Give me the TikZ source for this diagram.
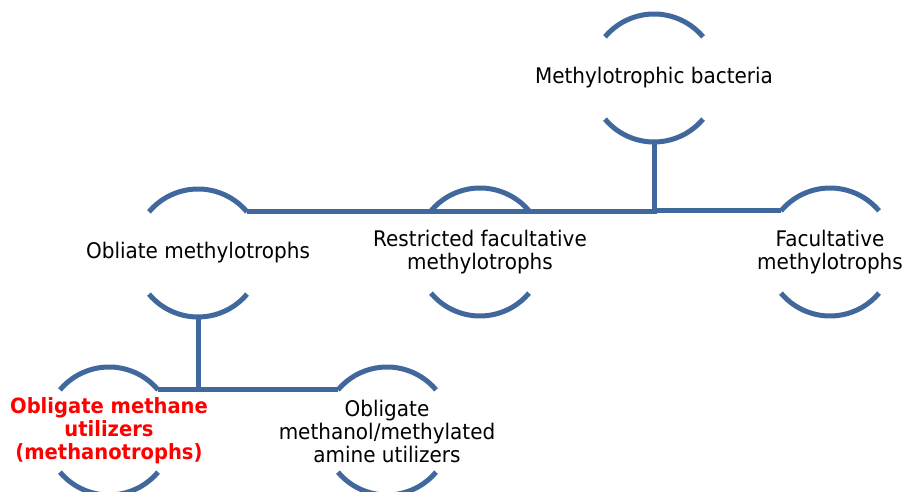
\documentclass[tikz,border=0pt]{standalone}
\usepackage{fontspec}
\setmainfont{DejaVu Sans}[FakeStretch=0.93]
\definecolor{linkblue}{HTML}{40689C}
\definecolor{hired}{HTML}{FF0000}
\begin{document}
\begin{tikzpicture}[x=1pt,y=1pt,
  lbl/.style={align=center,font=\fontsize{21.5}{23}\selectfont,inner sep=0pt},
  redlbl/.style={lbl,text=hired,font=\fontsize{21}{23}\selectfont\bfseries},
  arcline/.style={draw=linkblue,line width=5pt},
  conn/.style={draw=linkblue,line width=5pt}]
\useasboundingbox (0,0) rectangle (907,492);
% nodes
\node[lbl] (top) at (654,414) {Methylotrophic bacteria};
\node[lbl] (obl) at (198,239) {Obliate methylotrophs};
\node[lbl] (res) at (480,240) {Restricted facultative\\methylotrophs};
\node[lbl] (fac) at (830,240) {Facultative\\methylotrophs};
\node[redlbl] (mne) at (109,61) {Obligate methane\\utilizers\\(methanotrophs)};
\node[lbl] (mol) at (387,61) {Obligate\\methanol/methylated\\amine utilizers};
% arcs
\foreach \n in {top,obl,res,fac,mne,mol}{
  \draw[arcline] ([shift={(40:64pt)}]\n.center) arc (40:140:64pt);
  \draw[arcline] ([shift={(220:64pt)}]\n.center) arc (220:320:64pt);
}
% connectors
\draw[conn] ([yshift=-64pt]top.center) |- ([shift={(40:64pt)}]obl.center);
\draw[conn] ([yshift=-64pt]top.center) |- ([shift={(140:64pt)}]fac.center);
\draw[conn] ([yshift=-64pt]obl.center) |- ([shift={(40:64pt)}]mne.center);
\draw[conn] ([yshift=-64pt]obl.center) |- ([shift={(140:64pt)}]mol.center);
\end{tikzpicture}
\end{document}
